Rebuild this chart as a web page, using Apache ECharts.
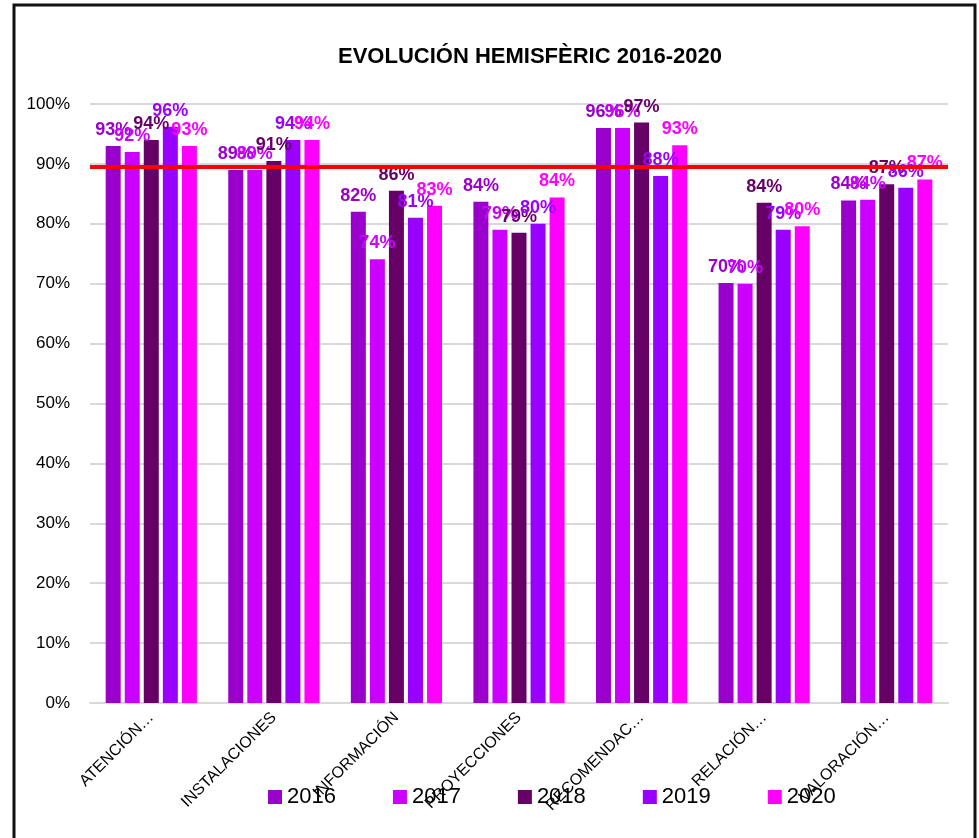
<!DOCTYPE html>
<html>
<head>
<meta charset="utf-8">
<script src="https://cdn.jsdelivr.net/npm/echarts@6/dist/echarts.min.js"></script>
<style>
html, body { margin: 0; padding: 0; background: #fff; }
#chart { width: 979px; height: 838px; }
</style>
</head>
<body>
<div id="chart"></div>
<script>
// datos
var categorias = ['ATENCIÓN…', 'INSTALACIONES', 'INFORMACIÓN', 'PROYECCIONES', 'RECOMENDAC…', 'RELACIÓN…', 'VALORACIÓN…'];
var anios = ['2016', '2017', '2018', '2019', '2020'];
var v2016 = [93.0, 89.0, 82.0, 83.7, 96.0, 70.1, 83.9];
var v2017 = [92.0, 89.0, 74.1, 79.0, 96.0, 70.0, 84.0];
var v2018 = [94.0, 90.5, 85.5, 78.5, 96.9, 83.5, 86.6];
var v2019 = [96.2, 94.0, 81.0, 80.0, 88.0, 79.0, 86.0];
var v2020 = [93.0, 94.0, 83.0, 84.4, 93.1, 79.6, 87.4];
var media = 89.5;
var colores = ['#9900cc', '#cc00ff', '#660066', '#9900ff', '#ff00ff'];

var valores = [v2016, v2017, v2018, v2019, v2020];
var series = [];
for (var i = 0; i < anios.length; i++) {
    var s = {
        name: anios[i],
        type: 'bar',
        barWidth: 15,
        barGap: '27%',
        data: valores[i],
        label: {
            show: true,
            position: 'top',
            distance: 7,
            color: colores[i],
            fontFamily: 'Liberation Sans',
            fontWeight: 'bold',
            fontSize: 18,
            formatter: function (p) { return Math.round(p.value) + '%'; }
        }
    };
    if (i === anios.length - 1) {
        // linea roja de referencia
        s.markLine = {
            silent: true,
            symbol: ['none', 'none'],
            label: { show: false },
            lineStyle: { color: '#ff0000', width: 4, type: 'solid' },
            data: [{ yAxis: media }]
        };
    }
    series.push(s);
}

var chart = echarts.init(document.getElementById('chart'));
chart.setOption({
    color: colores,
    animation: false,
    textStyle: { fontFamily: 'Liberation Sans' },
    title: {
        text: 'EVOLUCIÓN HEMISFÈRIC 2016-2020',
        left: 333,
        top: 41,
        textStyle: { fontFamily: 'Liberation Sans', fontWeight: 'bold', fontSize: 22, color: '#000' }
    },
    graphic: [{
        type: 'rect',
        shape: { x: 14, y: 5, width: 961, height: 900 },
        style: { fill: 'none', stroke: '#111', lineWidth: 3 },
        silent: true
    }],
    legend: {
        data: anios,
        left: 263,
        top: 781,
        itemWidth: 14,
        itemHeight: 14,
        itemGap: 57,
        icon: 'rect',
        textStyle: { fontFamily: 'Liberation Sans', fontSize: 22, color: '#000' }
    },
    grid: {
        left: 90,
        right: 31,
        top: 104,
        bottom: 135
    },
    xAxis: [{
        type: 'category',
        data: categorias,
        axisTick: { show: false },
        axisLine: { lineStyle: { color: '#d9d9d9', width: 2 } },
        axisLabel: {
            interval: 0,
            rotate: 45,
            margin: 12,
            color: '#000',
            fontFamily: 'Liberation Sans',
            fontSize: 16
        }
    }],
    yAxis: [{
        type: 'value',
        min: 0,
        max: 100,
        interval: 10,
        axisLine: { show: false },
        axisTick: { show: false },
        axisLabel: {
            formatter: '{value}%',
            margin: 20,
            color: '#000',
            fontFamily: 'Liberation Sans',
            fontSize: 17
        },
        splitLine: { lineStyle: { color: '#d9d9d9', width: 2 } }
    }],
    series: series
});
</script>
</body>
</html>
